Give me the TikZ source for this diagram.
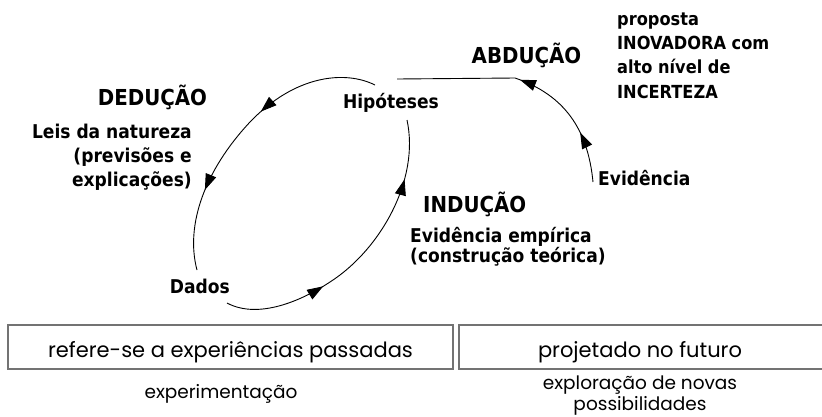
\documentclass[tikz,border=0pt]{standalone}
\usepackage{fontspec}
\newfontfamily\tah{DejaVu Sans Condensed Bold}
\newfontfamily\geo{Poppins}
\usetikzlibrary{arrows.meta,decorations.markings}
\begin{document}
\begin{tikzpicture}[x=1pt,y=-1pt,
  lbl/.style={inner sep=0pt, font=\tah\fontsize{19}{23}\selectfont},
  head/.style={inner sep=0pt, font=\tah\fontsize{22}{26}\selectfont},
  small/.style={inner sep=0pt, font=\tah\fontsize{18}{22}\selectfont},
  boxtxt/.style={inner sep=0pt, font=\geo\fontsize{21}{25}\selectfont},
  subtxt/.style={inner sep=0pt, font=\geo\fontsize{18.5}{22}\selectfont},
  framebox/.style={draw=black!55, line width=1.3pt, inner sep=0pt},
  arc/.style={line width=0.9pt},
  twoarrows/.style 2 args={postaction=decorate, decoration={markings,
     mark=at position #1 with {\arrow{Triangle[length=16pt,width=11pt]}},
     mark=at position #2 with {\arrow{Triangle[length=16pt,width=11pt]}}}},
]
\useasboundingbox (0,0) rectangle (822,416);

% labels
\node[head, anchor=base] (ded) at (152.5,105) {DEDUÇÃO};
\node[lbl, anchor=base east] (leis1) at (192,138) {Leis da natureza};
\node[lbl, anchor=base east] (leis2) at (192,162) {(previsões e};
\node[lbl, anchor=base east] (leis3) at (192,186) {explicações)};
\node[lbl, anchor=base] (hip) at (391,108) {Hipóteses};
\node[lbl, anchor=base east] (dados) at (230,293) {Dados};
\node[head, anchor=base west] (ind) at (423,212) {INDUÇÃO};
\node[lbl, anchor=base west] (ind1) at (410,242) {Evidência empírica};
\node[lbl, anchor=base west] (ind2) at (410,262) {(construção teórica)};
\node[lbl, anchor=base west] (evid) at (598,185) {Evidência};
\node[head, anchor=base] (abd) at (526.5,63) {ABDUÇÃO};
\node[small, anchor=base west] (p1) at (617,25) {proposta};
\node[small, anchor=base west] (p2) at (617,49.4) {INOVADORA com};
\node[small, anchor=base west] (p3) at (617,73.8) {alto nível de};
\node[small, anchor=base west] (p4) at (617,98.2) {INCERTEZA};

% arc end points
\coordinate (hipL) at (375,85);
\coordinate (dadL) at (197,270);
\coordinate (dadR) at (227,303);
\coordinate (hipR) at (407,120);
\coordinate (hipA) at (397,79);
\coordinate (evA) at (593,182);

% deduction arc
\draw[arc, twoarrows={0.41}{0.73}] (hipL) .. controls (345,70) and (295,75) .. (250,122)
   .. controls (205,170) and (185,225) .. (dadL);
% induction arc
\draw[arc, twoarrows={0.34}{0.8}] (dadR) .. controls (255,318) and (295,305) .. (330,282)
   .. controls (380,250) and (420,180) .. (hipR);
% abduction
\draw[arc, twoarrows={0.2}{0.52}] (evA) .. controls (588,130) and (565,95) .. (515,78) -- (hipA);

% boxes
\node[framebox, minimum width=445pt, minimum height=44pt] (box1) at (230.5,347) {};
\node[framebox, minimum width=370pt, minimum height=44pt] (box2) at (644,347) {};
\node[boxtxt, anchor=base] (t1) at (230.5,357) {refere-se a experiências passadas};
\node[boxtxt, anchor=base] (t2) at (640,357) {projetado no futuro};
\node[subtxt, anchor=base] (s1) at (221,398) {experimentação};
\node[subtxt, anchor=base] (s2) at (640,389) {exploração de novas};
\node[subtxt, anchor=base] (s3) at (640,410) {possibilidades};
\end{tikzpicture}
\end{document}
